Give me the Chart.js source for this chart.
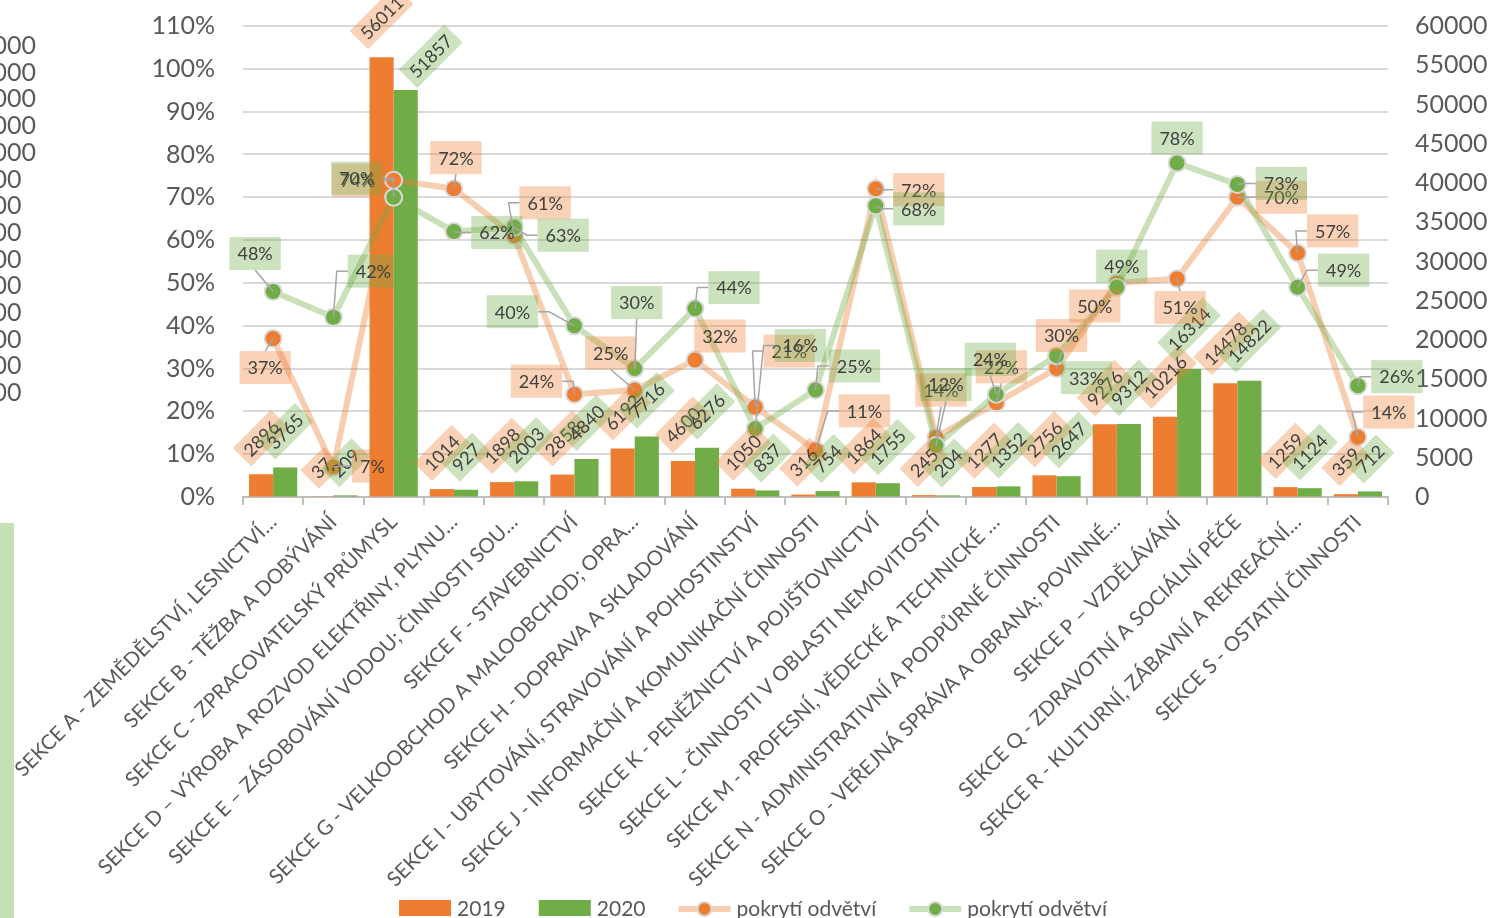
<!DOCTYPE html>
<html>
<head>
<meta charset="utf-8">
<script src="https://cdn.jsdelivr.net/npm/chart.js@4.4.0/dist/chart.umd.min.js"></script>
<style>
  html, body { margin: 0; padding: 0; background: #fff; overflow: hidden; }
  #wrap { width: 1496px; height: 918px; position: relative; }
</style>
</head>
<body>
<div id="wrap"><canvas id="chart" width="1496" height="918"></canvas></div>
<script>
// --- data ---
const categories = [
  'SEKCE A - ZEMĚDĚLSTVÍ, LESNICTVÍ…',
  'SEKCE B - TĚŽBA A DOBÝVÁNÍ',
  'SEKCE C - ZPRACOVATELSKÝ PRŮMYSL',
  'SEKCE D – VÝROBA A ROZVOD ELEKTŘINY, PLYNU…',
  'SEKCE E – ZÁSOBOVÁNÍ VODOU; ČINNOSTI SOU…',
  'SEKCE F - STAVEBNICTVÍ',
  'SEKCE G - VELKOOBCHOD A MALOOBCHOD; OPRA…',
  'SEKCE H - DOPRAVA A SKLADOVÁNÍ',
  'SEKCE I - UBYTOVÁNÍ, STRAVOVÁNÍ A POHOSTINSTVÍ',
  'SEKCE J - INFORMAČNÍ A KOMUNIKAČNÍ ČINNOSTI',
  'SEKCE K - PENĚŽNICTVÍ A POJIŠŤOVNICTVÍ',
  'SEKCE L - ČINNOSTI V OBLASTI NEMOVITOSTÍ',
  'SEKCE M - PROFESNÍ, VĚDECKÉ A TECHNICKÉ …',
  'SEKCE N - ADMINISTRATIVNÍ A PODPŮRNÉ ČINNOSTI',
  'SEKCE O - VEŘEJNÁ SPRÁVA A OBRANA; POVINNÉ…',
  'SEKCE P – VZDĚLÁVÁNÍ',
  'SEKCE Q - ZDRAVOTNÍ A SOCIÁLNÍ PÉČE',
  'SEKCE R - KULTURNÍ, ZÁBAVNÍ A REKREAČNÍ…',
  'SEKCE S - OSTATNÍ ČINNOSTI'
];
const values2019 = [2896, 37, 56011, 1014, 1898, 2858, 6192, 4600, 1050, 316, 1864, 245, 1277, 2756, 9276, 10216, 14478, 1259, 359];
const values2020 = [3765, 209, 51857, 927, 2003, 4840, 7716, 6276, 837, 754, 1755, 204, 1352, 2647, 9312, 16314, 14822, 1124, 712];
const coverage2019 = [0.37, 0.07, 0.74, 0.72, 0.61, 0.24, 0.25, 0.32, 0.21, 0.11, 0.72, 0.14, 0.22, 0.30, 0.50, 0.51, 0.70, 0.57, 0.14];
const coverage2020 = [0.48, 0.42, 0.70, 0.62, 0.63, 0.40, 0.30, 0.44, 0.16, 0.25, 0.68, 0.12, 0.24, 0.33, 0.49, 0.78, 0.73, 0.49, 0.26];
const seriesNames = ['2019', '2020', 'pokrytí odvětví', 'pokrytí odvětví'];
// clipped axis of a neighbouring chart, visible at the left edge
const strayTicks = [140000, 130000, 120000, 110000, 100000, 90000, 80000, 70000, 60000, 50000, 40000, 30000, 20000, 10000];

// --- label placement (moved by hand in the original) ---
const pctOffsets2019 = [[-8,29],[39,-1],[-36,0],[2,-31],[31,-33],[-38,-13],[-24,-37],[25,-24],[34,-56],[49,-39],
  [43,1],[5,-47],[5,-36],[5,-33],[-22,23],[3,29],[44,0],[35,-22],[31,-25]];
const pctOffsets2020 = [[-18,-38],[40,-46],[-37,-19],[43,1],[49,8],[-62,-14],[2,-66],[39,-21],[45,-83],[39,-24],
  [43,3],[10,-61],[-6,-35],[30,22],[5,-21],[0,-25],[44,-1],[46,-17],[39,-9]];
const barLabelNudge = { '1:2': [25, 6] };

const ORANGE = '#ED7D31';
const GREEN = '#70AD47';
const ORANGE_SOFT = 'rgba(237,125,49,0.35)';
const GREEN_SOFT = 'rgba(112,173,71,0.35)';
const ORANGE_LINE = 'rgba(237,125,49,0.38)';
const GREEN_LINE = 'rgba(112,173,71,0.38)';
const TEXT = '#404040';
const AXIS_TEXT = '#595959';
const FONT = 'Lato';
const CLEAR = 'rgba(0,0,0,0)';

const backdrop = {
  id: 'backdrop',
  beforeDraw(chart) {
    const ctx = chart.ctx;
    ctx.save();
    ctx.fillStyle = '#fff';
    ctx.fillRect(0, 0, chart.width, chart.height);
    ctx.fillStyle = '#C5E0B4';
    ctx.fillRect(0, 523, 14, chart.height - 523);
    ctx.fillStyle = AXIS_TEXT;
    ctx.font = '25px ' + FONT;
    ctx.textAlign = 'left';
    ctx.textBaseline = 'middle';
    strayTicks.forEach((t, i) => ctx.fillText(String(t), -51, 46 + i * 26.7));
    ctx.restore();
  }
};

function drawBarLabel(ctx, text, x, yTop, fill, nudge) {
  const tw = ctx.measureText(text).width;
  const w = tw + 12, h = 26;
  const ext = (w + h) / Math.SQRT2;
  const cx = x + nudge[0];
  const cy = yTop - ext / 2 - 8 + nudge[1];
  ctx.save();
  ctx.translate(cx, cy);
  ctx.rotate(-Math.PI / 4);
  ctx.fillStyle = fill;
  ctx.fillRect(-w / 2, -h / 2, w, h);
  ctx.fillStyle = TEXT;
  ctx.fillText(text, 0, 1);
  ctx.restore();
}

const dataLabels = {
  id: 'dataLabels',
  afterDatasetsDraw(chart) {
    const ctx = chart.ctx;
    ctx.save();
    ctx.font = '18px ' + FONT;
    ctx.textAlign = 'center';
    ctx.textBaseline = 'middle';

    // bar value labels, rotated
    [[2, values2019, ORANGE_SOFT, 0], [3, values2020, GREEN_SOFT, 1]].forEach(([di, vals, fill, key]) => {
      chart.getDatasetMeta(di).data.forEach((el, i) => {
        const nudge = barLabelNudge[key + ':' + i] || [0, 0];
        drawBarLabel(ctx, String(vals[i]), el.x, el.y, fill, nudge);
      });
    });

    // coverage labels with leader lines
    const leaders = [];
    [[1, coverage2019, pctOffsets2019, ORANGE_SOFT], [0, coverage2020, pctOffsets2020, GREEN_SOFT]].forEach(([di, vals, offs, fill]) => {
      chart.getDatasetMeta(di).data.forEach((pt, i) => {
        const text = Math.round(vals[i] * 100) + '%';
        const w = ctx.measureText(text).width + 16, h = 33;
        const cx = pt.x + offs[i][0], cy = pt.y + offs[i][1];
        ctx.fillStyle = fill;
        ctx.fillRect(cx - w / 2, cy - h / 2, w, h);
        ctx.fillStyle = TEXT;
        ctx.fillText(text, cx, cy + 1);
        // gap between point and box
        const gx = Math.max(Math.abs(pt.x - cx) - w / 2, 0);
        const gy = Math.max(Math.abs(pt.y - cy) - h / 2, 0);
        if (Math.hypot(gx, gy) > 10) leaders.push({ pt, cx, cy, w, h });
      });
    });
    ctx.strokeStyle = '#A6A6A6';
    ctx.lineWidth = 1.5;
    leaders.forEach(({ pt, cx, cy, w, h }) => {
      ctx.beginPath();
      if (Math.abs(pt.x - cx) > w / 2) {
        const side = pt.x < cx ? -1 : 1;
        const ex = cx + side * w / 2;
        ctx.moveTo(ex, cy);
        ctx.lineTo(ex + side * 11, cy);
      } else {
        ctx.moveTo(cx, pt.y > cy ? cy + h / 2 : cy - h / 2);
      }
      ctx.lineTo(pt.x, pt.y);
      ctx.stroke();
    });
    ctx.restore();
  }
};

const bottomLegend = {
  id: 'bottomLegend',
  afterDraw(chart) {
    const ctx = chart.ctx;
    ctx.save();
    ctx.font = '21px ' + FONT;
    ctx.textBaseline = 'middle';
    ctx.textAlign = 'left';
    const markW = 52, gapText = 6, gapItem = 33, y = 909;
    const widths = seriesNames.map(n => markW + gapText + ctx.measureText(n).width);
    const total = widths.reduce((a, b) => a + b, 0) + gapItem * (widths.length - 1);
    let x = 753 - total / 2;
    const kinds = [['box', ORANGE], ['box', GREEN], ['line', ORANGE, ORANGE_LINE], ['line', GREEN, GREEN_LINE]];
    seriesNames.forEach((name, i) => {
      const [kind, col, soft] = kinds[i];
      if (kind === 'box') {
        ctx.fillStyle = col;
        ctx.fillRect(x, 900, markW, 16);
      } else {
        ctx.strokeStyle = soft;
        ctx.lineWidth = 6;
        ctx.beginPath();
        ctx.moveTo(x, y);
        ctx.lineTo(x + markW, y);
        ctx.stroke();
        ctx.beginPath();
        ctx.arc(x + markW / 2, y, 7, 0, Math.PI * 2);
        ctx.fillStyle = col;
        ctx.fill();
        ctx.strokeStyle = '#D9D9D9';
        ctx.lineWidth = 2;
        ctx.stroke();
      }
      ctx.fillStyle = AXIS_TEXT;
      ctx.fillText(name, x + markW + gapText, y);
      x += widths[i] + gapItem;
    });
    ctx.restore();
  }
};

new Chart(document.getElementById('chart'), {
  type: 'bar',
  data: {
    labels: categories,
    datasets: [
      {
        type: 'line', label: seriesNames[3], data: coverage2020, yAxisID: 'y', order: 0,
        borderColor: GREEN_LINE, borderWidth: 6, tension: 0, clip: false,
        pointRadius: 8.5, pointBackgroundColor: GREEN, pointBorderColor: '#D9D9D9', pointBorderWidth: 2
      },
      {
        type: 'line', label: seriesNames[2], data: coverage2019, yAxisID: 'y', order: 1,
        borderColor: ORANGE_LINE, borderWidth: 6, tension: 0, clip: false,
        pointRadius: 8.5, pointBackgroundColor: ORANGE, pointBorderColor: '#D9D9D9', pointBorderWidth: 2
      },
      { label: seriesNames[0], data: values2019, yAxisID: 'y1', order: 2, backgroundColor: ORANGE, categoryPercentage: 0.8, barPercentage: 1.0 },
      { label: seriesNames[1], data: values2020, yAxisID: 'y1', order: 3, backgroundColor: GREEN, categoryPercentage: 0.8, barPercentage: 1.0 }
    ]
  },
  options: {
    responsive: false,
    devicePixelRatio: 1,
    animation: false,
    layout: { padding: { top: 26, left: 0, right: 0, bottom: 0 } },
    plugins: { legend: { display: false }, tooltip: { enabled: false } },
    scales: {
      x: {
        offset: true,
        grid: { display: true, drawOnChartArea: false, drawTicks: true, tickLength: 8, color: '#BFBFBF', lineWidth: 2, offset: true },
        border: { display: true, color: '#BFBFBF', width: 2 },
        ticks: { autoSkip: false, minRotation: 45, maxRotation: 45, padding: 5, color: AXIS_TEXT, font: { family: FONT, size: 20.5 } },
        afterFit: s => { s.height = 421; }
      },
      y: {
        position: 'left', min: 0, max: 1.1,
        grid: { color: '#D9D9D9', lineWidth: 2, drawTicks: true, tickLength: 24, tickColor: CLEAR },
        border: { display: false },
        ticks: { stepSize: 0.1, padding: 4, color: AXIS_TEXT, font: { family: FONT, size: 25 }, callback: v => Math.round(v * 100) + '%' },
        afterFit: s => { s.width = 243; }
      },
      y1: {
        position: 'right', min: 0, max: 60000,
        grid: { display: true, drawOnChartArea: false, drawTicks: true, tickLength: 23, color: CLEAR, tickColor: CLEAR },
        border: { display: false },
        ticks: { stepSize: 5000, padding: 4, color: AXIS_TEXT, font: { family: FONT, size: 25 }, callback: v => String(v) },
        afterFit: s => { s.width = 108; }
      }
    }
  },
  plugins: [backdrop, dataLabels, bottomLegend]
});
</script>
</body>
</html>
